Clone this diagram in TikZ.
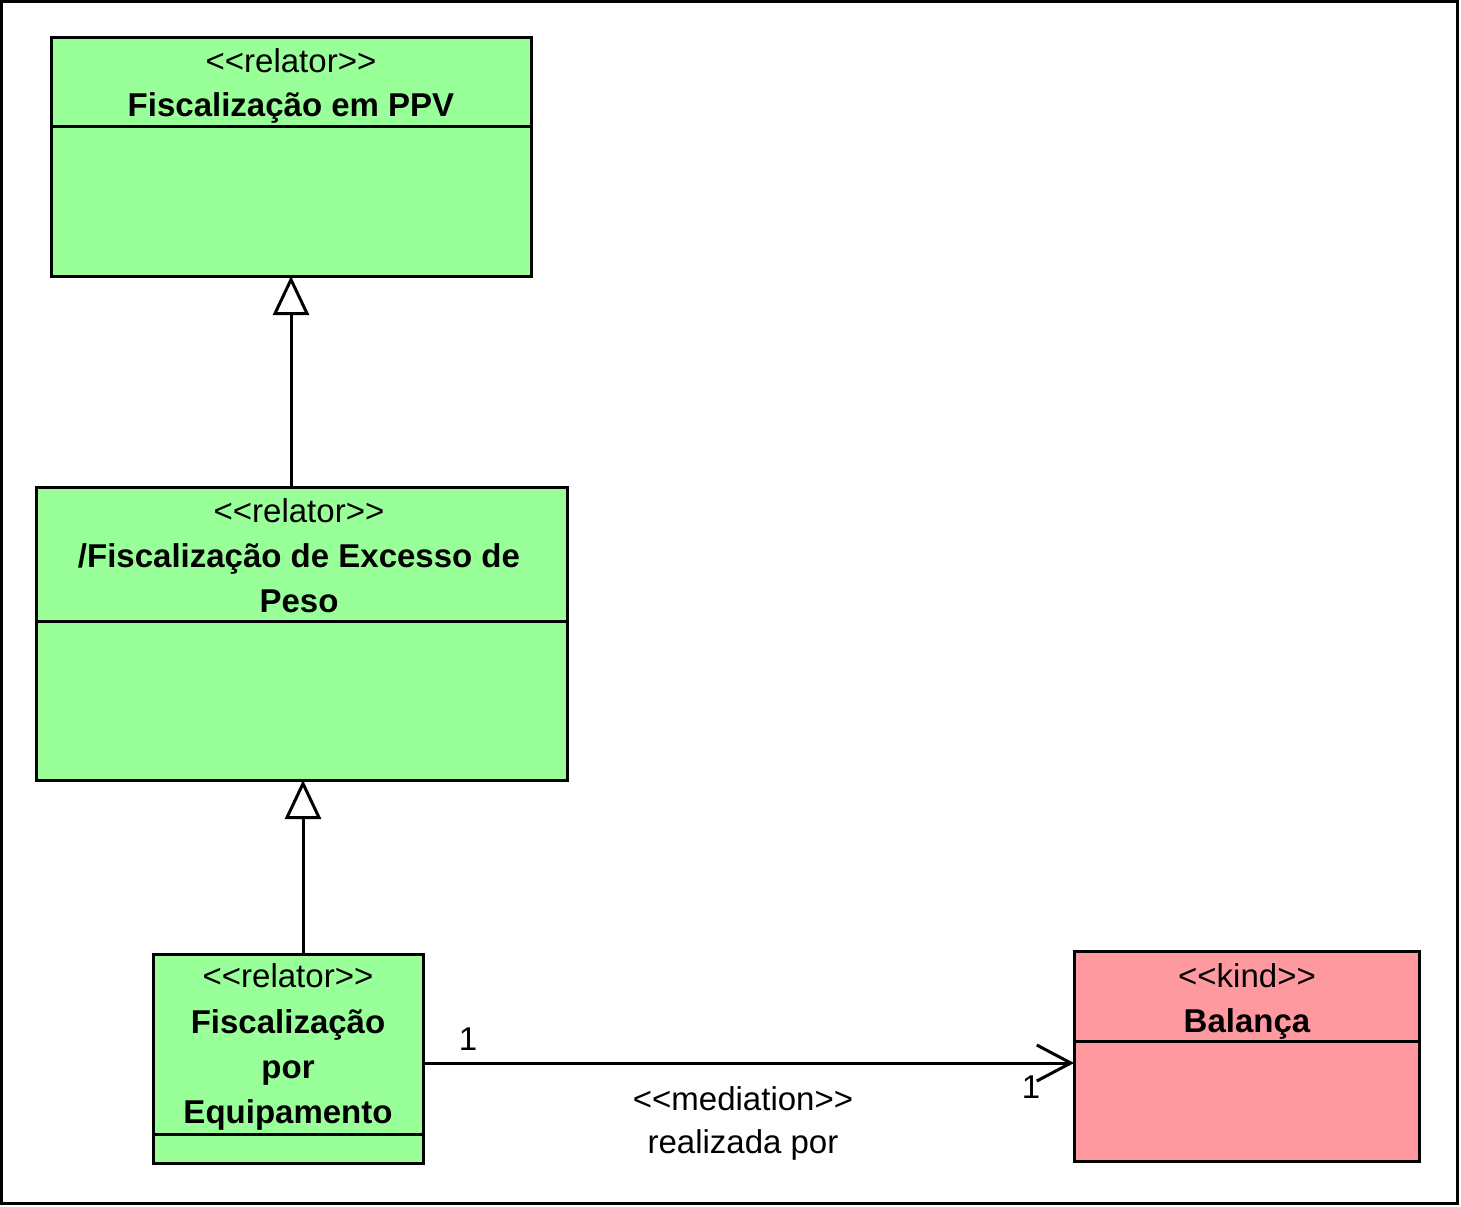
\documentclass[tikz,border=0pt]{standalone}
\usepackage{fontspec}
\setmainfont{Liberation Sans}
\usetikzlibrary{arrows.meta}
\definecolor{relgreen}{RGB}{153,255,153}
\definecolor{kindpink}{RGB}{255,153,160}
\tikzset{
  umlbox/.style={draw=black, line width=1.5pt, inner sep=0pt, outer sep=0pt},
  sepline/.style={line width=1.5pt},
  txt/.style={anchor=base, inner sep=0pt, font=\fontsize{16.5}{22.5}\selectfont},
  btxt/.style={txt, font=\fontsize{16.5}{22.5}\selectfont\bfseries},
  gen/.style={line width=1.5pt, -{Triangle[open, length=19.5pt, width=18pt, fill=white]}},
  med/.style={line width=1.5pt, -{Straight Barb[length=17pt, width=18pt]}},
}
\newcommand{\stereo}[1]{{<}{<}#1{>}{>}}
\begin{document}
\begin{tikzpicture}[x=0.5pt, y=-0.5pt]
\useasboundingbox (0,0) rectangle (1461,1206);
\draw[line width=1.5pt] (1.5,1.5) rectangle (1457.5,1203);

% Box 1
\node[umlbox, fill=relgreen, minimum width=240pt, minimum height=119.5pt] (b1) at (291,156.5) {};
\draw[sepline] (b1.west |- 0,126) -- (b1.east |- 0,126);
\node[txt] (b1s) at (291,72) {\stereo{relator}};
\node[btxt] (b1n) at (291,116) {Fiscalização em PPV};

% Box 2
\node[umlbox, fill=relgreen, minimum width=265.5pt, minimum height=146.5pt] (b2) at (301.5,633.5) {};
\draw[sepline] (b2.west |- 0,621) -- (b2.east |- 0,621);
\node[txt] (b2s) at (299,522) {\stereo{relator}};
\node[btxt] (b2n) at (299,567) {/Fiscalização de Excesso de};
\node[btxt] (b2p) at (299,612) {Peso};

% Box 3
\node[umlbox, fill=relgreen, minimum width=135pt, minimum height=104.5pt] (b3) at (288,1058.5) {};
\draw[sepline] (b3.west |- 0,1134) -- (b3.east |- 0,1134);
\node[txt] (b3s) at (288,987) {\stereo{relator}};
\node[btxt] (b3n) at (288,1033) {Fiscalização};
\node[btxt] (b3p) at (288,1078) {por};
\node[btxt] (b3e) at (288,1123) {Equipamento};

% Box 4
\node[umlbox, fill=kindpink, minimum width=172.5pt, minimum height=105pt] (b4) at (1246.5,1056) {};
\draw[sepline] (b4.west |- 0,1041) -- (b4.east |- 0,1041);
\node[txt] (b4s) at (1247,987) {\stereo{kind}};
\node[btxt] (b4n) at (1247,1032) {Balança};

% Generalizations
\draw[gen] (b2.north -| b1.south) -- (b1.south);
\coordinate (g2s) at ([xshift=7.5pt]b3.north);
\draw[gen] (g2s) -- (g2s |- b2.south);

% Mediation
\coordinate (m1) at (b3.east |- 0,1063);
\draw[med] (m1) -- (m1 -| b4.west);
\node[txt] (mul1) at (468,1050) {1};
\node[txt] (mul2) at (1031,1098) {1};
\node[txt] (ml1) at (743,1110) {\stereo{mediation}};
\node[txt] (ml2) at (743,1153) {realizada por};
\end{tikzpicture}
\end{document}
